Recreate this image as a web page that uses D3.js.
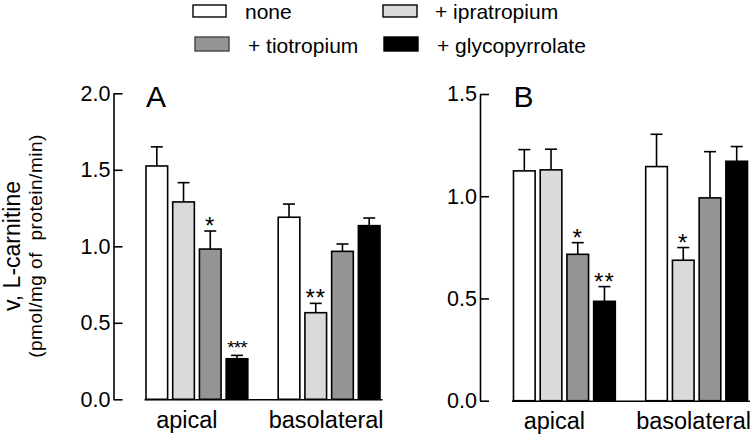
<!DOCTYPE html>
<html>
<head>
<meta charset="utf-8">
<script src="https://cdn.jsdelivr.net/npm/d3@7"></script>
<style>
  body { margin: 0; background: #fff; }
  svg { display: block; font-family: "Liberation Sans", Arial, sans-serif; }
</style>
</head>
<body>
<svg id="chart" width="753" height="435"></svg>
<script>
// Data
const groups = ["apical", "basolateral"];
const treatments = ["none", "+ ipratropium", "+ tiotropium", "+ glycopyrrolate"];
const colors = ["#ffffff", "#d9dadb", "#949494", "#000000"];

// Panel A
const meanA_apical = [1.525, 1.29, 0.982, 0.265];
const meanA_baso = [1.19, 0.566, 0.967, 1.135];
const semA_apical = [0.125, 0.126, 0.118, 0.022];
const semA_baso = [0.086, 0.061, 0.048, 0.05];
const sigA_apical = ["", "", "*", "***"];
const sigA_baso = ["", "**", "", ""];
const ticksA = [0, 0.5, 1.0, 1.5, 2.0];

// Panel B
const meanB_apical = [1.124, 1.129, 0.716, 0.486];
const meanB_baso = [1.145, 0.687, 0.992, 1.171];
const semB_apical = [0.104, 0.101, 0.057, 0.072];
const semB_baso = [0.158, 0.062, 0.226, 0.072];
const sigB_apical = ["", "", "*", "**"];
const sigB_baso = ["", "*", "", ""];
const ticksB = [0, 0.5, 1.0, 1.5];

const svg = d3.select("#chart");

function toRows(means, sems, sigs) {
  return treatments.map((t, i) => ({ key: t, i: i, mean: means[i], sem: sems[i], sig: sigs[i] }));
}

function drawPanel(opts) {
  const y = d3.scaleLinear().domain([0, opts.yMax]).range([opts.y0, opts.y1]);

  const x0 = d3.scaleBand()
    .domain(groups)
    .range([opts.xStart, opts.xEnd])
    .paddingInner(0.23)
    .paddingOuter(0.015);

  const x1 = d3.scaleBand()
    .domain(treatments)
    .range([0, x0.bandwidth()])
    .paddingInner(0.19);

  const g = svg.append("g");

  // y axis, ticks pointing inward
  const yAxis = d3.axisLeft(y)
    .tickValues(opts.ticks)
    .tickFormat(d3.format(".1f"))
    .tickSize(-9)
    .tickSizeOuter(0)
    .tickPadding(3);

  const ya = g.append("g")
    .attr("transform", `translate(${opts.yAxisX},0)`)
    .call(yAxis);
  ya.selectAll("path, line").attr("stroke", "#000").attr("stroke-width", 1.6);
  ya.selectAll("text").attr("font-size", 21.5).attr("fill", "#000");

  // bars
  const data = [
    { group: "apical", rows: toRows(opts.meanApical, opts.semApical, opts.sigApical) },
    { group: "basolateral", rows: toRows(opts.meanBaso, opts.semBaso, opts.sigBaso) }
  ];

  const grp = g.selectAll(".grp")
    .data(data)
    .enter().append("g")
    .attr("class", "grp")
    .attr("transform", d => `translate(${x0(d.group)},0)`);

  // error bars (upper only)
  const err = grp.selectAll(".err")
    .data(d => d.rows)
    .enter().append("g")
    .attr("class", "err")
    .attr("stroke", "#000")
    .attr("stroke-width", 1.6);

  err.append("line")
    .attr("x1", d => x1(d.key) + x1.bandwidth() / 2)
    .attr("x2", d => x1(d.key) + x1.bandwidth() / 2)
    .attr("y1", d => y(d.mean))
    .attr("y2", d => y(d.mean + d.sem));

  err.append("line")
    .attr("x1", d => x1(d.key) + x1.bandwidth() / 2 - 6)
    .attr("x2", d => x1(d.key) + x1.bandwidth() / 2 + 6)
    .attr("y1", d => y(d.mean + d.sem))
    .attr("y2", d => y(d.mean + d.sem));

  grp.selectAll(".bar")
    .data(d => d.rows)
    .enter().append("rect")
    .attr("class", "bar")
    .attr("x", d => x1(d.key))
    .attr("y", d => y(d.mean))
    .attr("width", x1.bandwidth())
    .attr("height", d => y(0) - y(d.mean))
    .attr("fill", d => colors[d.i])
    .attr("stroke", "#000")
    .attr("stroke-width", 1.6);

  // significance stars
  grp.selectAll(".sig")
    .data(d => d.rows.filter(r => r.sig))
    .enter().append("text")
    .attr("class", "sig")
    .attr("x", d => x1(d.key) + x1.bandwidth() / 2)
    .attr("y", d => y(d.mean + d.sem) + (d.sig.length > 2 ? -1 : 3))
    .attr("text-anchor", "middle")
    .attr("font-size", d => d.sig.length > 2 ? 19 : 24)
    .attr("letter-spacing", d => d.sig.length > 2 ? -1 : 1)
    .text(d => d.sig);

  // x axis
  const xAxis = d3.axisBottom(x0).tickSize(0).tickSizeOuter(0).tickPadding(12);
  const xa = g.append("g")
    .attr("transform", `translate(0,${opts.y0})`)
    .call(xAxis);
  xa.select("path").attr("stroke", "#000").attr("stroke-width", 1.6);
  xa.selectAll("text")
    .attr("font-size", 23.5)
    .attr("fill", "#000")
    .attr("dx", d => d === "apical" ? -10 : -3);

  // panel letter
  g.append("text")
    .attr("x", x0.range()[0] + 2)
    .attr("y", 106.5)
    .attr("font-size", 30)
    .text(opts.letter);
}

drawPanel({
  letter: "A", yMax: 2.0, y0: 399.3, y1: 93.3, ticks: ticksA,
  yAxisX: 113.5, xStart: 144, xEnd: 382,
  meanApical: meanA_apical, semApical: semA_apical, sigApical: sigA_apical,
  meanBaso: meanA_baso, semBaso: semA_baso, sigBaso: sigA_baso
});

drawPanel({
  letter: "B", yMax: 1.5, y0: 400.7, y1: 94, ticks: ticksB,
  yAxisX: 480, xStart: 511.5, xEnd: 749.5,
  meanApical: meanB_apical, semApical: semB_apical, sigApical: sigB_apical,
  meanBaso: meanB_baso, semBaso: semB_baso, sigBaso: sigB_baso
});

// y axis title
const title = svg.append("g").attr("transform", "translate(0,246) rotate(-90)");
title.append("text")
  .attr("x", 0).attr("y", 20)
  .attr("text-anchor", "middle")
  .attr("font-size", 23)
  .text("v, L-carnitine");
title.append("text")
  .attr("x", 0).attr("y", 42)
  .attr("text-anchor", "middle")
  .attr("font-size", 19)
  .attr("letter-spacing", 0.5)
  .attr("xml:space", "preserve")
  .style("white-space", "pre")
  .text("(pmol/mg of  protein/min)");

// legend
const legendPos = [
  { x: 193, y: 5, w: 33, h: 12, tx: 245, ty: 19 },
  { x: 383, y: 5, w: 34, h: 12, tx: 435, ty: 19 },
  { x: 195, y: 37, w: 34, h: 14, tx: 248, ty: 53 },
  { x: 384, y: 37, w: 34, h: 14, tx: 437, ty: 53 }
];
const legend = svg.append("g").selectAll(".leg")
  .data(treatments)
  .enter().append("g")
  .attr("class", "leg");
legend.append("rect")
  .attr("x", (d, i) => legendPos[i].x)
  .attr("y", (d, i) => legendPos[i].y)
  .attr("width", (d, i) => legendPos[i].w)
  .attr("height", (d, i) => legendPos[i].h)
  .attr("fill", (d, i) => colors[i])
  .attr("stroke", (d, i) => i === 2 ? "#444" : "#000")
  .attr("stroke-width", 1.4);
legend.append("text")
  .attr("x", (d, i) => legendPos[i].tx)
  .attr("y", (d, i) => legendPos[i].ty)
  .attr("font-size", 21)
  .text(d => d);
</script>
</body>
</html>
